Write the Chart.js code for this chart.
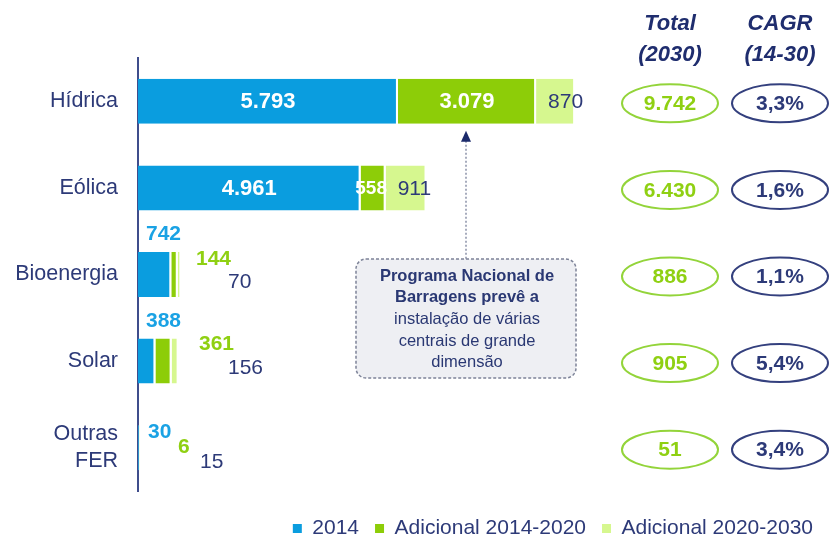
<!DOCTYPE html>
<html lang="pt">
<head>
<meta charset="UTF-8">
<title>Capacidade FER 2014-2030</title>
<script src="https://cdn.jsdelivr.net/npm/chart.js"></script>
<style>
  html, body { margin: 0; padding: 0; background: #fff; }
  #wrap { width: 829px; height: 538px; }
</style>
</head>
<body>
<div id="wrap"><canvas id="chart" width="829" height="538"></canvas></div>
<script>
// data
const categories = ["Hídrica", "Eólica", "Bioenergia", "Solar", ["Outras", "FER"]];
const seriesNames = ["2014", "Adicional 2014-2020", "Adicional 2020-2030"];
const cap2014 = [5793, 4961, 742, 388, 30];
const add1420 = [3079, 558, 144, 361, 6];
const add2030 = [870, 911, 70, 156, 15];
const total2030 = [9742, 6430, 886, 905, 51];
const cagr1430 = [3.3, 1.6, 1.1, 5.4, 3.4];
const noteLines = ["Programa Nacional de", "Barragens prevê a", "instalação de várias", "centrais de grande", "dimensão"];

const FONT = 'Arial, "Liberation Sans", sans-serif';
const BLUE = "#0a9ddf", GREEN = "#8dcd08", LIGHT = "#d6f78f", NAVY = "#2d3a78";
const colors = [BLUE, GREEN, LIGHT];
const labelColors = ["#1aa2e4", "#8fd012", NAVY];

// small bars get their numbers outside, [dx from axis, dy from bar centre]
const outsideOffsets = {
  2: [[8, -40], [58, -15], [90, 8]],
  3: [[8, -40], [61, -17], [90, 7]],
  4: [[10, -15], [40, 0], [62, 15]]
};

const fmtInt = v => String(v).replace(/\B(?=(\d{3})+(?!\d))/g, ".");
const fmtPct = v => v.toFixed(1).replace(".", ",") + "%";

const valueLabels = {
  id: "valueLabels",
  afterDatasetsDraw(chart) {
    const ctx = chart.ctx;
    const x0 = chart.scales.x.getPixelForValue(0);
    ctx.save();
    ctx.textBaseline = "middle";
    chart.data.datasets.forEach((ds, di) => {
      chart.getDatasetMeta(di).data.forEach((el, i) => {
        const txt = fmtInt(ds.data[i]);
        if (outsideOffsets[i]) {
          const [dx, dy] = outsideOffsets[i][di];
          ctx.font = (di < 2 ? "bold " : "") + "21px " + FONT;
          ctx.fillStyle = labelColors[di];
          ctx.textAlign = "left";
          ctx.fillText(txt, x0 + dx, el.y + dy);
        } else if (di < 2) {
          const narrow = (el.x - el.base) < 40;
          ctx.font = "bold " + (narrow ? 19 : 22) + "px " + FONT;
          ctx.fillStyle = "#fff";
          ctx.textAlign = "center";
          ctx.fillText(txt, (el.x + el.base) / 2 - (narrow ? 2 : 0), el.y + 1);
        } else {
          ctx.font = "21px " + FONT;
          ctx.fillStyle = NAVY;
          ctx.textAlign = "left";
          ctx.fillText(txt, el.base + 12, el.y + 1);
        }
      });
    });
    ctx.restore();
  }
};

// nudge the legend row down to where the original sits
const legendShift = {
  id: "legendShift",
  afterLayout(chart) {
    if (chart.legend) {
      chart.legend.top += 11;
      chart.legend.bottom += 11;
    }
  }
};

const sideColumns = {
  id: "sideColumns",
  afterDraw(chart) {
    const ctx = chart.ctx;
    const y = chart.scales.y;
    ctx.save();
    ctx.textAlign = "center";
    ctx.textBaseline = "middle";
    ctx.font = "italic bold 22px " + FONT;
    ctx.fillStyle = "#1f2d6e";
    ctx.fillText("Total", 670, 24);
    ctx.fillText("(2030)", 670, 55);
    ctx.fillText("CAGR", 780, 24);
    ctx.fillText("(14-30)", 780, 55);

    categories.forEach((c, i) => {
      const cy = y.getPixelForValue(i) + 2;
      ctx.lineWidth = 2;
      ctx.strokeStyle = "#93d43a";
      ctx.beginPath();
      ctx.ellipse(670, cy, 48, 19, 0, 0, Math.PI * 2);
      ctx.stroke();
      ctx.strokeStyle = "#34407e";
      ctx.beginPath();
      ctx.ellipse(780, cy, 48, 19, 0, 0, Math.PI * 2);
      ctx.stroke();
      ctx.font = "bold 21px " + FONT;
      ctx.fillStyle = "#8fd012";
      ctx.fillText(fmtInt(total2030[i]), 670, cy + 1);
      ctx.fillStyle = NAVY;
      ctx.fillText(fmtPct(cagr1430[i]), 780, cy + 1);
    });

    // callout pointing at the Hídrica 2014-2020 segment
    const seg = chart.getDatasetMeta(1).data[0];
    const ax = Math.round((seg.x + seg.base) / 2) - 1;
    const tipY = seg.y + seg.height / 2 + 7;
    const boxW = 220, boxH = 119, boxTop = 259;
    const bx = ax - boxW / 2;

    ctx.strokeStyle = "#8b91a8";
    ctx.lineWidth = 1.5;
    ctx.setLineDash([2, 2]);
    ctx.beginPath();
    ctx.moveTo(ax, tipY + 10);
    ctx.lineTo(ax, boxTop);
    ctx.stroke();
    ctx.setLineDash([]);
    ctx.fillStyle = "#1b2a6b";
    ctx.beginPath();
    ctx.moveTo(ax, tipY);
    ctx.lineTo(ax - 5, tipY + 11);
    ctx.lineTo(ax + 5, tipY + 11);
    ctx.closePath();
    ctx.fill();

    ctx.beginPath();
    ctx.roundRect(bx, boxTop, boxW, boxH, 10);
    ctx.fillStyle = "#eeeff3";
    ctx.fill();
    ctx.setLineDash([3, 2]);
    ctx.strokeStyle = "#7d8398";
    ctx.lineWidth = 1.5;
    ctx.stroke();
    ctx.setLineDash([]);

    ctx.fillStyle = "#2a3873";
    noteLines.forEach((line, k) => {
      ctx.font = (k < 2 ? "bold " : "") + "16.5px " + FONT;
      ctx.fillText(line, ax + 1, boxTop + 17 + k * 21.7);
    });
    ctx.restore();
  }
};

const seriesData = [cap2014, add1420, add2030];

new Chart(document.getElementById("chart"), {
  type: "bar",
  data: {
    labels: categories,
    datasets: seriesNames.map((name, k) => ({
      label: name,
      data: seriesData[k],
      backgroundColor: colors[k],
      borderColor: "#fff",
      borderWidth: { top: 0, bottom: 0, left: 0, right: 2 },
      borderSkipped: false,
      barPercentage: 0.52,
      categoryPercentage: 1.0
    }))
  },
  options: {
    indexAxis: "y",
    responsive: false,
    animation: false,
    layout: { padding: { top: 58, left: 0, right: 0, bottom: 0 } },
    scales: {
      x: { stacked: true, display: false, min: 0, max: 15400 },
      y: {
        stacked: true,
        grid: { display: false, drawTicks: false },
        border: { display: true, color: "#3f4d8c", width: 2 },
        ticks: { color: NAVY, padding: 20, font: { size: 21.5, family: FONT, lineHeight: 1.25 } },
        afterFit(s) { s.width = 138; }
      }
    },
    plugins: {
      tooltip: { enabled: false },
      legend: {
        position: "bottom",
        align: "end",
        labels: {
          boxWidth: 9,
          boxHeight: 9,
          padding: 16,
          color: NAVY,
          font: { size: 21, family: FONT },
          generateLabels: chart => chart.data.datasets.map((ds, k) => ({
            text: ds.label,
            fillStyle: colors[k],
            strokeStyle: colors[k],
            lineWidth: 0,
            fontColor: NAVY,
            datasetIndex: k
          }))
        }
      }
    }
  },
  plugins: [valueLabels, sideColumns, legendShift]
});
</script>
</body>
</html>
